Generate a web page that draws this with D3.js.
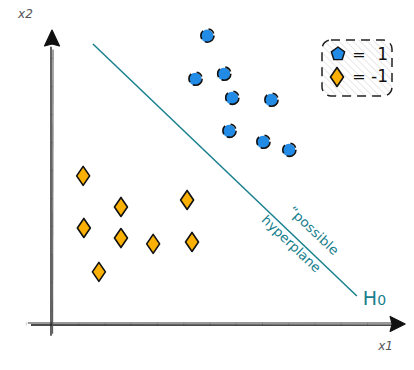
<!DOCTYPE html>
<html><head><meta charset="utf-8">
<script src="https://cdn.jsdelivr.net/npm/d3@7"></script>
<style>html,body{margin:0;padding:0;background:#fff;}svg{display:block;}</style>
</head><body>
<script>
// ---- data ----
const blueX = [4.43, 4.09, 4.91, 5.14, 6.26, 5.06, 6.03, 6.77];
const blueY = [10.29, 8.75, 8.93, 8.07, 8.0, 6.89, 6.5, 6.21];
const orangeX = [0.89, 1.97, 3.86, 0.91, 1.97, 2.89, 4.0, 1.34];
const orangeY = [5.29, 4.18, 4.43, 3.43, 3.07, 2.86, 2.93, 1.86];
const lineX = [1.17, 8.71];
const lineY = [10.0, 1.0];
const legendLabels = ["1", "-1"];
const axisLabels = ["x1", "x2"];
const lineLabels = ["\u201Cpossible", "hyperplane"];
const xTicks = d3.range(-0.75, 9.6, 0.75);
const yTicks = d3.range(0.5, 9.6, 1);

const W = 414, H = 370;
const teal = "#18808e", blue = "#228be6", orange = "#fab005";
const svg = d3.select("body").append("svg").attr("width", W).attr("height", H);

const x = d3.scaleLinear().domain([0, 10]).range([52, 402]);
const y = d3.scaleLinear().domain([0, 10]).range([324, 44]);

const defs = svg.append("defs");
const pat = defs.append("pattern").attr("id", "hatch").attr("patternUnits", "userSpaceOnUse")
  .attr("width", 5).attr("height", 5).attr("patternTransform", "rotate(-45)");
pat.append("line").attr("x1", 0).attr("y1", 0).attr("x2", 0).attr("y2", 5)
  .attr("stroke", "#d6d6d6").attr("stroke-width", 1.2);

// ---- axes ----
const xAxis = d3.axisBottom(x).tickValues(xTicks).tickSize(3).tickFormat("");
const gx = svg.append("g").attr("transform", `translate(0,${y(0) - 1.5})`).call(xAxis);
gx.select(".domain").remove();
gx.selectAll(".tick line").attr("stroke", "#bbb").attr("stroke-width", 0.8);
const yAxis = d3.axisLeft(y).tickValues(yTicks).tickSize(-2).tickFormat("");
const gy = svg.append("g").attr("transform", `translate(${x(0) - 1},0)`).call(yAxis);
gy.select(".domain").remove();
gy.selectAll(".tick line").attr("stroke", "#bbb").attr("stroke-width", 0.8);

// x axis (sketchy double line)
svg.append("line").attr("x1", x(-0.69)).attr("x2", x(9.9)).attr("y1", y(0) - 1).attr("y2", y(0) - 1)
  .attr("stroke", "#777").attr("stroke-width", 1.6);
svg.append("line").attr("x1", x(-0.6)).attr("x2", x(9.95)).attr("y1", y(0) + 1).attr("y2", y(0) + 1.2)
  .attr("stroke", "#111").attr("stroke-width", 1.3);
// y axis
svg.append("line").attr("x1", x(0) - 1).attr("x2", x(0) - 1).attr("y1", y(9.9)).attr("y2", y(-0.42))
  .attr("stroke", "#222").attr("stroke-width", 1.4);
svg.append("line").attr("x1", x(0) + 1).attr("x2", x(0) + 0.6).attr("y1", y(9.8)).attr("y2", y(-0.35))
  .attr("stroke", "#555").attr("stroke-width", 1.1);
// arrowheads
const tipX = [x(10.09), y(0)];
svg.append("path").attr("d", `M${tipX[0]},${tipX[1]} L${tipX[0] - 15},${tipX[1] - 7.5} L${tipX[0] - 13},${tipX[1]} L${tipX[0] - 15},${tipX[1] + 7.5} Z`)
  .attr("fill", "#111").attr("stroke", "#111").attr("stroke-width", 1.2).attr("stroke-linejoin", "round");
const tipY = [x(0), y(10.5)];
svg.append("path").attr("d", `M${tipY[0]},${tipY[1]} L${tipY[0] - 7.5},${tipY[1] + 16} L${tipY[0]},${tipY[1] + 14} L${tipY[0] + 7.5},${tipY[1] + 16} Z`)
  .attr("fill", "#111").attr("stroke", "#111").attr("stroke-width", 1.2).attr("stroke-linejoin", "round");

// axis labels
svg.append("text").attr("x", x(9.32)).attr("y", y(-0.93)).text(axisLabels[0])
  .attr("font-family", "DejaVu Sans").attr("font-style", "italic").attr("font-size", 12).attr("fill", "#555");
svg.append("text").attr("x", x(-0.97)).attr("y", y(10.93)).text(axisLabels[1])
  .attr("font-family", "DejaVu Sans").attr("font-style", "italic").attr("font-size", 12).attr("fill", "#555");

// ---- hyperplane ----
const p1 = [x(lineX[0]), y(lineY[0])], p2 = [x(lineX[1]), y(lineY[1])];
svg.append("line").attr("x1", p1[0]).attr("y1", p1[1]).attr("x2", p2[0]).attr("y2", p2[1])
  .attr("stroke", teal).attr("stroke-width", 1.5);
const ang = Math.atan2(p2[1] - p1[1], p2[0] - p1[0]) * 180 / Math.PI;
const t = 0.785;
const lp = [p1[0] + t * (p2[0] - p1[0]), p1[1] + t * (p2[1] - p1[1])];
const lg = svg.append("g").attr("transform", `translate(${lp[0]},${lp[1]}) rotate(${ang})`);
lg.append("text").attr("x", 2).attr("y", -13).attr("text-anchor", "middle").text(lineLabels[0])
  .attr("font-family", "DejaVu Sans").attr("font-size", 13).attr("fill", teal)
  .attr("textLength", 64).attr("lengthAdjust", "spacingAndGlyphs");
lg.append("text").attr("x", -5).attr("y", 12).attr("text-anchor", "middle").text(lineLabels[1])
  .attr("font-family", "DejaVu Sans").attr("font-size", 13).attr("fill", teal)
  .attr("textLength", 76).attr("lengthAdjust", "spacingAndGlyphs");
const h0 = svg.append("text").attr("x", p2[0] + 6).attr("y", p2[1] + 9)
  .attr("font-family", "DejaVu Sans").attr("font-size", 19).attr("fill", teal);
h0.append("tspan").text("H");
h0.append("tspan").attr("font-size", 14).text("0");

// ---- points ----
const blueData = blueX.map((v, i) => [v, blueY[i]]);
const orangeData = orangeX.map((v, i) => [v, orangeY[i]]);

function bluePt(g, cx, cy) {
  g.append("circle").attr("cx", cx).attr("cy", cy).attr("r", 6.3).attr("fill", blue);
  g.append("circle").attr("cx", cx + 0.4).attr("cy", cy - 0.3).attr("r", 6.6).attr("fill", "none")
    .attr("stroke", "#111").attr("stroke-width", 1.6).attr("stroke-dasharray", "13,4,9,6,7,3");
}
function diamond(g, cx, cy) {
  const w = 6.5, h = 9.5;
  g.append("path").attr("d", `M${cx},${cy - h} L${cx + w},${cy} L${cx},${cy + h} L${cx - w},${cy} Z`)
    .attr("fill", orange).attr("stroke", "#111").attr("stroke-width", 1.6).attr("stroke-linejoin", "round");
}
const gb = svg.append("g");
blueData.forEach(d => bluePt(gb, x(d[0]), y(d[1])));
const go = svg.append("g");
orangeData.forEach(d => diamond(go, x(d[0]), y(d[1])));

// ---- legend ----
const leg = svg.append("g");
leg.append("rect").attr("x", 322).attr("y", 40).attr("width", 70).attr("height", 56).attr("rx", 9)
  .attr("fill", "url(#hatch)").attr("stroke", "#222").attr("stroke-width", 1.5).attr("stroke-dasharray", "9,6");
const pent = d3.range(5).map(i => {
  const a = -Math.PI / 2 + i * 2 * Math.PI / 5;
  return [338 + 7 * Math.cos(a), 54 + 7 * Math.sin(a)];
});
leg.append("path").attr("d", "M" + pent.join("L") + "Z").attr("fill", blue).attr("stroke", "#111")
  .attr("stroke-width", 1.4).attr("stroke-linejoin", "round");
diamond(leg, 337, 77);
legendLabels.forEach((lab, i) => {
  const by = 60 + i * 22;
  leg.append("text").attr("x", 359).attr("y", by).attr("text-anchor", "middle").text("=")
    .attr("font-family", "DejaVu Sans").attr("font-size", 16).attr("fill", "#111");
  leg.append("text").attr("x", 388).attr("y", by).attr("text-anchor", "end").text(lab)
    .attr("font-family", "DejaVu Sans").attr("font-size", 17).attr("fill", "#111");
});
</script>
</body></html>
